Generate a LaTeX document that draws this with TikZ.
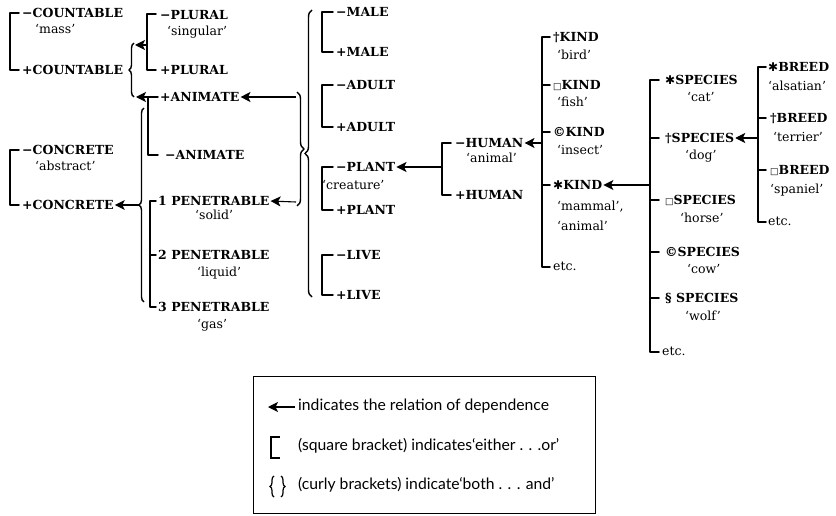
\documentclass[tikz,border=0pt]{standalone}
\usepackage{fontspec}
\setmainfont{DejaVu Serif}
\newfontfamily\symf{DejaVu Sans}
\newfontfamily\legf{Lato}
\usetikzlibrary{arrows.meta,decorations.pathreplacing}
\newcommand\sqbrk[4]{\draw[brk] (#1+#4,#2) -- (#1,#2) -- (#1,#3) -- (#1+#4,#3);}
\newcommand\midtick[3]{\draw[brk] (#1,#2) -- (#1+#3,#2);}
\newcommand\sqsym{{\symf\fontsize{9}{9}\selectfont □}}
\newcommand\hastsym{{\symf\fontsize{12}{12}\selectfont ✱}}
\begin{document}
\begin{tikzpicture}[x=1pt,y=-1pt,
  lab/.style={font=\bfseries\fontsize{12.5}{14}\selectfont, anchor=west, inner sep=0pt, text height=9pt, text depth=0pt},
  gl/.style={font=\fontsize{12.5}{14}\selectfont, anchor=west, inner sep=0pt, text height=6.5pt, text depth=0pt},
  leg/.style={font=\legf\fontsize{15.7}{17}\selectfont, anchor=west, inner sep=0pt, text height=7.5pt, text depth=0pt},
  brk/.style={line width=1.5pt, line cap=round, line join=round},
  dep/.style={line width=1.1pt, shorten >=1pt, -{Stealth[length=10pt,width=10pt,inset=2.5pt]}},
  brc/.style={line width=1.4pt, decorate, decoration={brace, amplitude=#1}},
  brc/.default=5pt,
]
\useasboundingbox (0,0) rectangle (836,516);

% ---- column 1
\sqbrk{10}{13}{70}{9}
\node[lab] (cneg) at (22,13) {−COUNTABLE};
\node[gl] (gmass) at (35,30) {‘mass’};
\node[lab] (cpos) at (22,70) {+COUNTABLE};
\sqbrk{10}{150}{205}{9}
\node[lab] (kneg) at (22,150) {−CONCRETE};
\node[gl] (gabs) at (35,167) {‘abstract’};
\node[lab] (kpos) at (22,205) {+CONCRETE};

% ---- braces of column 2
\draw[brc] (134,97) -- (134,43);
\draw[brc] (144,302) -- (144,108);
\coordinate (b1top) at (134,45);
\coordinate (b1bot) at (135,97);
\coordinate (b2tip) at (139,205);
\coordinate (plb) at (147,45);
\coordinate (anb) at (148,97);
\draw[dep] (plb) -- (b1top);
\draw[dep] (anb) -- (b1bot);
\draw[dep] (b2tip) -- (kpos.east);

% ---- column 2
\sqbrk{147}{14}{70}{9}
\node[lab] (pneg) at (160,15) {−PLURAL};
\node[gl] (gsing) at (167,32) {‘singular’};
\node[lab] (ppos) at (160,70) {+PLURAL};
\sqbrk{148}{97}{155}{10}
\node[lab] (apos) at (160,97) {+ANIMATE};
\node[lab] (aneg) at (165,155) {−ANIMATE};
\sqbrk{150}{201}{307}{6}
\midtick{150}{255}{6}
\node[lab] (n1) at (158,201) {1 PENETRABLE};
\node[gl] (gsolid) at (195,216) {‘solid’};
\node[lab] (n2) at (158,255) {2 PENETRABLE};
\node[gl] (gliq) at (197,273) {‘liquid’};
\node[lab] (n3) at (158,307) {3 PENETRABLE};
\node[gl] (ggas) at (197,325) {‘gas’};

% ---- braces of column 3
\draw[brc=7pt] (297,92) -- (297,206);
\draw[brc=7pt] (312,297) -- (312,10);
\coordinate (b3top) at (296,97);
\coordinate (b3bot) at (296,202);
\draw[dep] (b3top) -- (apos.east);
\draw[dep] (b3bot) -- (n1.east);

% ---- column 3
\sqbrk{322}{12}{52}{11}
\node[lab] (mneg) at (336,12) {−MALE};
\node[lab] (mpos) at (336,52) {+MALE};
\sqbrk{322}{85}{127}{11}
\node[lab] (adneg) at (336,85) {−ADULT};
\node[lab] (adpos) at (336,127) {+ADULT};
\sqbrk{322}{167}{210}{11}
\node[lab] (plneg) at (336,167) {−PLANT};
\node[gl] (gcre) at (322,186) {‘creature’};
\node[lab] (plpos) at (336,210) {+PLANT};
\sqbrk{322}{255}{295}{11}
\node[lab] (lneg) at (336,255) {−LIVE};
\node[lab] (lpos) at (336,295) {+LIVE};

% ---- HUMAN
\sqbrk{442}{143}{195}{9}
\node[lab] (hneg) at (455,143) {−HUMAN};
\node[gl] (ganim) at (466,159) {‘animal’};
\node[lab] (hpos) at (455,195) {+HUMAN};
\coordinate (hb) at (442,167);
\draw[dep] (hb) -- (plneg.east);

% ---- KIND
\sqbrk{542}{37}{267}{8}
\midtick{542}{85}{8}
\midtick{542}{132}{8}
\midtick{542}{185}{8}
\node[lab] (k1) at (553,37) {†KIND};
\node[gl] (gbird) at (557,56) {‘bird’};
\node[lab] (k2) at (553,85) {\sqsym KIND};
\node[gl] (gfish) at (557,103) {‘fish’};
\node[lab] (k3) at (553,132) {©KIND};
\node[gl] (gins) at (557,151) {‘insect’};
\node[lab] (k4) at (553,185) {\hastsym KIND};
\node[gl] (gmam) at (557,207) {‘mammal’,};
\node[gl] (gani) at (557,227) {‘animal’};
\node[gl] (ketc) at (553,267) {etc.};
\coordinate (kb) at (542,143);
\draw[dep] (kb) -- (hneg.east);

% ---- SPECIES
\sqbrk{650}{80}{352}{9}
\midtick{650}{138}{9}
\midtick{650}{200}{9}
\midtick{650}{252}{9}
\midtick{650}{298}{9}
\node[lab] (s1) at (665,80) {\hastsym SPECIES};
\node[gl] (gcat) at (687,98) {‘cat’};
\node[lab] (s2) at (665,138) {†SPECIES};
\node[gl] (gdog) at (685,156) {‘dog’};
\node[lab] (s3) at (665,200) {\sqsym SPECIES};
\node[gl] (ghorse) at (680,219) {‘horse’};
\node[lab] (s4) at (665,252) {©SPECIES};
\node[gl] (gcow) at (687,270) {‘cow’};
\node[lab] (s5) at (665,298) {§ SPECIES};
\node[gl] (gwolf) at (685,317) {‘wolf’};
\node[gl] (setc) at (662,352) {etc.};
\coordinate (sb) at (650,185);
\draw[dep] (sb) -- (k4.east);

% ---- BREED
\sqbrk{758}{67}{222}{8}
\midtick{758}{118}{8}
\midtick{758}{170}{8}
\node[lab] (br1) at (768,67) {\hastsym BREED};
\node[gl] (galsa) at (768,87) {‘alsatian’};
\node[lab] (br2) at (770,118) {†BREED};
\node[gl] (gterr) at (773,138) {‘terrier’};
\node[lab] (br3) at (770,170) {\sqsym BREED};
\node[gl] (gspan) at (770,190) {‘spaniel’};
\node[gl] (betc) at (768,222) {etc.};
\coordinate (bb) at (758,138);
\draw[dep] (bb) -- (s2.east);

% ---- legend
\node[draw, line width=1.2pt, minimum width=342pt, minimum height=137pt, anchor=north west, inner sep=0pt] (legend) at (253,376) {};
\coordinate (la1) at (295,407);
\coordinate (la2) at (268,407);
\draw[dep, shorten >=0pt] (la1) -- (la2);
\node[leg] (t1) at (298,407) {indicates the relation of dependence};
\draw[line width=1.2pt] (280,437) -- (271,437) -- (271,458) -- (280,458);
\node[leg] (t2) at (298,447) {(square bracket) indicates‘either . . .or’};
\draw[line width=1.2pt, decorate, decoration={brace, amplitude=4pt}] (274,497) -- (274,476);
\draw[line width=1.2pt, decorate, decoration={brace, amplitude=4pt}] (281,476) -- (281,497);
\node[leg] (t3) at (298,486) {(curly brackets) indicate‘both . . . and’};
\end{tikzpicture}
\end{document}
